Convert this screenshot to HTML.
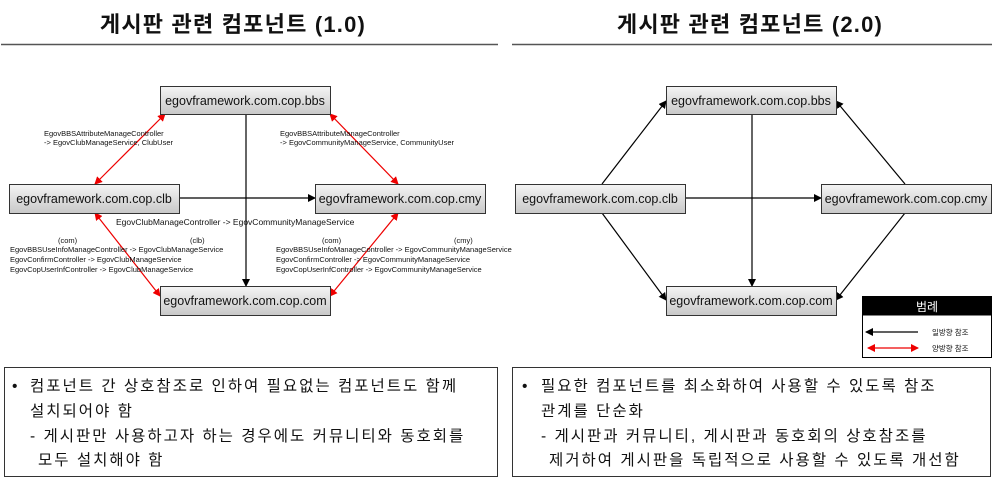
<!DOCTYPE html>
<html><head><meta charset="utf-8"><style>
body{margin:0;background:#fff;}
svg{display:block;}
text{font-family:"Liberation Sans","Noto Sans CJK KR",sans-serif;}
</style></head><body>
<svg width="995" height="482" viewBox="0 0 995 482" xmlns="http://www.w3.org/2000/svg">
<defs>
<linearGradient id="g" x1="0" y1="0" x2="0" y2="1"><stop offset="0" stop-color="#f4f4f4"/><stop offset="1" stop-color="#c8c8c8"/></linearGradient>
<marker id="ab" markerWidth="8" markerHeight="8" refX="7" refY="4" orient="auto" markerUnits="userSpaceOnUse"><path d="M0,0 L8,4 L0,8 z" fill="#000"/></marker>
<marker id="ar" markerWidth="8" markerHeight="8" refX="7" refY="4" orient="auto" markerUnits="userSpaceOnUse"><path d="M0,0 L8,4 L0,8 z" fill="#e00"/></marker>
<marker id="ars" markerWidth="8" markerHeight="8" refX="1" refY="4" orient="auto" markerUnits="userSpaceOnUse"><path d="M8,0 L0,4 L8,8 z" fill="#e00"/></marker>
</defs>
<g font-weight="bold" font-size="22" text-anchor="middle" fill="#111" letter-spacing="1.2">
<text x="233" y="32">게시판 관련 컴포넌트 (1.0)</text>
<text x="750" y="32">게시판 관련 컴포넌트 (2.0)</text>
</g>
<line x1="1" y1="44.5" x2="498" y2="44.5" stroke="#555" stroke-width="1.5"/>
<line x1="512" y1="44.5" x2="992" y2="44.5" stroke="#555" stroke-width="1.5"/>

<g stroke-width="1.2">
<line x1="165" y1="114" x2="95" y2="184" stroke="#e00" marker-start="url(#ars)" marker-end="url(#ar)"/>
<line x1="330" y1="114" x2="398" y2="184" stroke="#e00" marker-start="url(#ars)" marker-end="url(#ar)"/>
<line x1="160" y1="296" x2="95" y2="213" stroke="#e00" marker-start="url(#ars)" marker-end="url(#ar)"/>
<line x1="330" y1="296" x2="398" y2="213" stroke="#e00" marker-start="url(#ars)" marker-end="url(#ar)"/>
<line x1="179" y1="198" x2="315" y2="198" stroke="#000" marker-end="url(#ab)"/>
<line x1="246" y1="114" x2="246" y2="286" stroke="#000" marker-end="url(#ab)"/>
</g>
<g stroke="#000" stroke-width="1.2">
<line x1="602" y1="184" x2="666" y2="101" marker-end="url(#ab)"/>
<line x1="905" y1="184" x2="836" y2="101" marker-end="url(#ab)"/>
<line x1="602" y1="213" x2="666" y2="300" marker-end="url(#ab)"/>
<line x1="905" y1="213" x2="836" y2="300" marker-end="url(#ab)"/>
<line x1="685" y1="198" x2="821" y2="198" marker-end="url(#ab)"/>
<line x1="752" y1="114" x2="752" y2="286" marker-end="url(#ab)"/>
</g>

<g stroke="#333" stroke-width="1" fill="url(#g)">
<rect x="160.5" y="86.5" width="170" height="28"/>
<rect x="9.5" y="184.5" width="170" height="29"/>
<rect x="315.5" y="184.5" width="170" height="29"/>
<rect x="160.5" y="286.5" width="170" height="29"/>
<rect x="666.5" y="86.5" width="170" height="28"/>
<rect x="515.5" y="184.5" width="170" height="29"/>
<rect x="821.5" y="184.5" width="170" height="29"/>
<rect x="666.5" y="286.5" width="170" height="29"/>
</g>
<g font-size="12.5" text-anchor="middle" fill="#111">
<text x="245" y="105">egovframework.com.cop.bbs</text>
<text x="94" y="203">egovframework.com.cop.clb</text>
<text x="400" y="203">egovframework.com.cop.cmy</text>
<text x="245" y="305">egovframework.com.cop.com</text>
<text x="751" y="105">egovframework.com.cop.bbs</text>
<text x="600" y="203">egovframework.com.cop.clb</text>
<text x="906" y="203">egovframework.com.cop.cmy</text>
<text x="751" y="305">egovframework.com.cop.com</text>
</g>

<g font-size="7.5" fill="#111">
<text x="44" y="136">EgovBBSAttributeManageController</text>
<text x="44" y="145">-&gt; EgovClubManageService, ClubUser</text>
<text x="280" y="136">EgovBBSAttributeManageController</text>
<text x="280" y="145">-&gt; EgovCommunityManageService, CommunityUser</text>
<text x="116" y="225" font-size="8.5">EgovClubManageController    -&gt; EgovCommunityManageService</text>
<text x="58" y="243">(com)</text><text x="190" y="243">(clb)</text>
<text x="10" y="252">EgovBBSUseInfoManageController -&gt; EgovClubManageService</text>
<text x="10" y="262">EgovConfirmController  -&gt; EgovClubManageService</text>
<text x="10" y="272">EgovCopUserInfController -&gt; EgovClubManageService</text>
<text x="322" y="243">(com)</text><text x="454" y="243">(cmy)</text>
<text x="276" y="252">EgovBBSUseInfoManageController -&gt; EgovCommunityManageService</text>
<text x="276" y="262">EgovConfirmController  -&gt; EgovCommunityManageService</text>
<text x="276" y="272">EgovCopUserInfController -&gt; EgovCommunityManageService</text>
</g>

<rect x="862.5" y="296.5" width="129" height="61" fill="#fff" stroke="#000"/>
<rect x="862.5" y="296.5" width="129" height="19" fill="#000"/>
<text x="927" y="311" font-size="12" fill="#fff" text-anchor="middle">범례</text>
<line x1="918" y1="332" x2="866" y2="332" stroke="#000" stroke-width="1.2" marker-end="url(#ab)"/>
<line x1="868" y1="348" x2="918" y2="348" stroke="#e00" stroke-width="1.2" marker-start="url(#ars)" marker-end="url(#ar)"/>
<text x="932" y="335" font-size="7.5" fill="#111">일방향 참조</text>
<text x="932" y="351" font-size="7.5" fill="#111">양방향 참조</text>

<rect x="4.5" y="367.5" width="493" height="109" fill="#fff" stroke="#333"/>
<rect x="512.5" y="367.5" width="478" height="109" fill="#fff" stroke="#333"/>
<g font-size="15.5" fill="#111" letter-spacing="2">
<text x="12" y="391">•</text>
<text x="30" y="391">컴포넌트 간 상호참조로 인하여 필요없는 컴포넌트도 함께</text>
<text x="30" y="416">설치되어야 함</text>
<text x="30" y="441">- 게시판만 사용하고자 하는 경우에도 커뮤니티와 동호회를</text>
<text x="38" y="465">모두 설치해야 함</text>
<text x="522" y="391">•</text>
<text x="541" y="391">필요한 컴포넌트를 최소화하여  사용할 수 있도록 참조</text>
<text x="541" y="416">관계를 단순화</text>
<text x="541" y="441">- 게시판과 커뮤니티, 게시판과 동호회의 상호참조를</text>
<text x="549" y="465">제거하여 게시판을 독립적으로 사용할 수 있도록 개선함</text>
</g>
</svg>
</body></html>
